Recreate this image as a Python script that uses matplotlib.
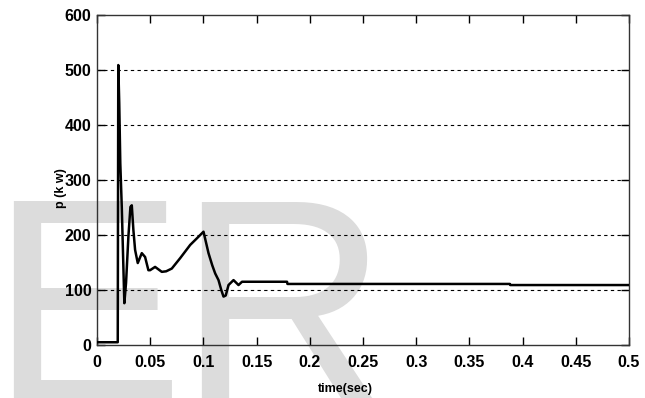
import matplotlib
matplotlib.use("Agg")
import matplotlib.pyplot as plt

# data
time_s = [0.0, 0.0190, 0.0195, 0.0200, 0.0209, 0.0219, 0.0233, 0.0257, 0.0273,
          0.0295, 0.0314, 0.0327, 0.0342, 0.0358, 0.0383, 0.0421, 0.0452, 0.0483,
          0.0499, 0.0546, 0.0609, 0.0650, 0.0703, 0.0782, 0.0876, 0.0939, 0.1001,
          0.1048, 0.1083, 0.1111, 0.1142, 0.1168, 0.1189, 0.1210, 0.1236, 0.1283,
          0.1330, 0.1363, 0.1786, 0.1790, 0.3880, 0.3885, 0.5000]
power_kw = [5, 5, 5, 509, 440, 330, 250, 76, 113,
            197, 251, 254, 209, 173, 149, 167, 160, 136,
            136, 142, 133, 134, 139, 158, 182, 194, 206,
            167, 145, 130, 118, 100, 88, 90, 109, 118,
            109, 115, 115, 111, 111, 109, 109]

xticks = [0, 0.05, 0.1, 0.15, 0.2, 0.25, 0.3, 0.35, 0.4, 0.45, 0.5]
xtick_labels = ["0", "0.05", "0.1", "0.15", "0.2", "0.25", "0.3", "0.35", "0.4", "0.45", "0.5"]
yticks = [0, 100, 200, 300, 400, 500, 600]
grid_levels = [100, 200, 300, 400, 500]

plt.rcParams['font.family'] = ['Liberation Sans', 'DejaVu Sans']

fig = plt.figure(figsize=(6.45, 3.98), dpi=100)
fig.patch.set_facecolor("white")

# watermark
fig.text(-11 / 645, 1 - 402 / 398, "E", fontsize=210, color="#dcdcdc",
         ha="left", va="baseline", zorder=-5, fontfamily="Liberation Sans")
fig.text(177 / 645, 1 - 402 / 398, "R", fontsize=210, color="#dcdcdc",
         ha="left", va="baseline", zorder=-5, fontfamily="Liberation Sans")

ax = fig.add_axes([97 / 645, 1 - 345 / 398, (629 - 97) / 645, (345 - 15) / 398])
ax.patch.set_alpha(0)

for g in grid_levels:
    ax.axhline(g, color="black", lw=0.8, ls=(0, (3, 3)), zorder=1)

ax.plot(time_s, power_kw, color="black", lw=1.8, zorder=3)

ax.set_xlim(0, 0.5)
ax.set_ylim(0, 600)
ax.set_xticks(xticks)
ax.set_xticklabels(xtick_labels)
ax.set_yticks(yticks)
ax.tick_params(direction="in", length=6, width=1, top=True, right=True,
               labelsize=11.5, pad=7)
ax.tick_params(axis="y", pad=4)
for lab in ax.get_xticklabels() + ax.get_yticklabels():
    lab.set_fontweight("bold")
for s in ax.spines.values():
    s.set_linewidth(1.0)
    s.set_color("#333333")

ax.set_xlabel("time(sec)", fontsize=9, fontweight="bold")
ax.xaxis.set_label_coords((345 - 97) / 532, (345 - 389) / 330)
ax.xaxis.label.set_va("center")
ax.set_ylabel("p (k w)", fontsize=9, fontweight="bold")
ax.yaxis.set_label_coords((61 - 97) / 532, (345 - 188) / 330)
ax.yaxis.label.set_va("center")

fig.savefig("out.png", dpi=100, facecolor="white")
